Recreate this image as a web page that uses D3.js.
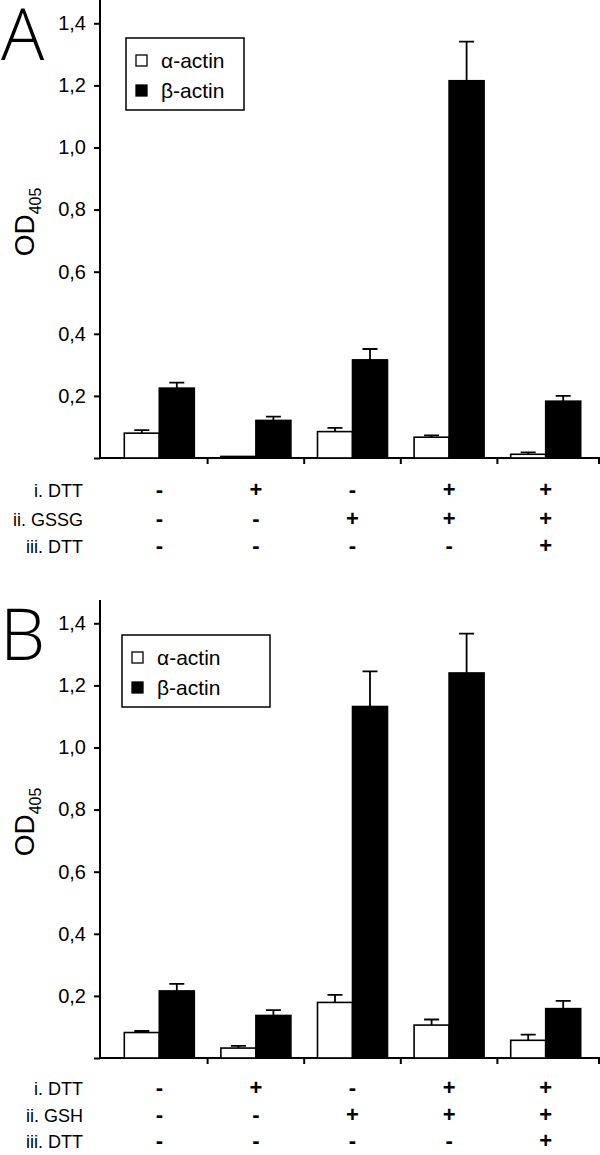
<!DOCTYPE html>
<html>
<head>
<meta charset="utf-8">
<script src="https://cdn.jsdelivr.net/npm/d3@7"></script>
<style>
  body { margin: 0; background: #fff; }
  svg { display: block; }
  text { font-family: "Liberation Sans", Arial, sans-serif; fill: #000; }
</style>
</head>
<body>
<svg id="chart" width="600" height="1155"></svg>
<script>
// ---- data ----
const categories = ["c1", "c2", "c3", "c4", "c5"];
const seriesNames = ["α-actin", "β-actin"];
const yTicks = [0, 0.2, 0.4, 0.6, 0.8, 1.0, 1.2, 1.4];

const alphaA    = [0.080, 0.005, 0.085, 0.067, 0.012];
const alphaAErr = [0.010, 0.000, 0.012, 0.006, 0.006];
const betaA     = [0.225, 0.121, 0.316, 1.215, 0.183];
const betaAErr  = [0.018, 0.012, 0.035, 0.126, 0.017];

const alphaB    = [0.082, 0.032, 0.179, 0.106, 0.057];
const alphaBErr = [0.005, 0.007, 0.024, 0.018, 0.018];
const betaB     = [0.216, 0.137, 1.132, 1.240, 0.159];
const betaBErr  = [0.023, 0.017, 0.113, 0.127, 0.025];

const rowLabelsA = ["i. DTT", "ii. GSSG", "iii. DTT"];
const rowLabelsB = ["i. DTT", "ii. GSH", "iii. DTT"];
const signs = [
  ["-", "+", "-", "+", "+"],
  ["-", "-", "+", "+", "+"],
  ["-", "-", "-", "-", "+"]
];

// ---- drawing ----
const svg = d3.select("#chart");

function panel(opts) {
  const { top, letter, alpha, alphaErr, beta, betaErr, rowLabels, legendW, letterX, letterY, rowY } = opts;
  const g = svg.append("g").attr("transform", `translate(0,${top})`);
  const axisX = 100, baseY = 458, plotRight = 600;

  const y = d3.scaleLinear().domain([0, 1.475]).range([baseY, 0]);
  const x0 = d3.scaleBand().domain(categories).range([111, 594]).paddingInner(0);
  const x1 = d3.scaleBand().domain(seriesNames).range([0, x0.bandwidth()]).paddingInner(0).paddingOuter(0.38);

  // panel letter
  g.append("text").attr("x", letterX).attr("y", letterY)
    .style("font-family", "'Open Sans', 'DejaVu Sans', sans-serif")
    .style("font-weight", 300).style("font-size", "72px").text(letter);

  // y axis
  const yAxis = d3.axisLeft(y).tickValues(yTicks).tickSize(6).tickPadding(8)
    .tickFormat(d => d === 0 ? "" : d3.format(".1f")(d).replace(".", ","));
  const ya = g.append("g").attr("transform", `translate(${axisX},0)`).call(yAxis);
  ya.select(".domain").remove();
  ya.selectAll(".tick line").attr("stroke", "#000").attr("stroke-width", 2);
  ya.selectAll(".tick text").style("font-size", "20px").style("font-family", "'Liberation Sans', Arial, sans-serif");
  g.append("line").attr("x1", axisX).attr("x2", axisX).attr("y1", y(1.475)).attr("y2", baseY)
    .attr("stroke", "#000").attr("stroke-width", 2);

  // x axis
  g.append("line").attr("x1", axisX - 1).attr("x2", plotRight).attr("y1", baseY).attr("y2", baseY)
    .attr("stroke", "#000").attr("stroke-width", 2);
  const tickXs = categories.slice(1).map(c => x0(c)).concat([599]);
  g.selectAll(".xt").data(tickXs).enter().append("line")
    .attr("x1", d => d).attr("x2", d => d).attr("y1", baseY).attr("y2", baseY + 6)
    .attr("stroke", "#000").attr("stroke-width", 2);

  // y label
  const yl = g.append("text").attr("transform", `translate(34,222) rotate(-90)`)
    .attr("text-anchor", "middle").style("font-size", "28px");
  yl.append("tspan").text("OD");
  yl.append("tspan").attr("dy", 7).style("font-size", "16px").text("405");

  // bars
  const data = categories.map((c, i) => ({ c, vals: [
    { s: seriesNames[0], v: alpha[i], e: alphaErr[i] },
    { s: seriesNames[1], v: beta[i], e: betaErr[i] }
  ]}));
  const grp = g.selectAll(".grp").data(data).enter().append("g")
    .attr("transform", d => `translate(${x0(d.c)},0)`);
  grp.selectAll(".err").data(d => d.vals.filter(v => v.e > 0)).enter().append("path")
    .attr("d", d => {
      const cx = x1(d.s) + x1.bandwidth() / 2;
      return `M${cx},${y(d.v)}V${y(d.v + d.e)}M${cx - 7.5},${y(d.v + d.e)}H${cx + 7.5}`;
    })
    .attr("stroke", "#000").attr("stroke-width", 1.8).attr("fill", "none");
  grp.selectAll("rect").data(d => d.vals).enter().append("rect")
    .attr("x", d => x1(d.s)).attr("width", x1.bandwidth())
    .attr("y", d => y(d.v)).attr("height", d => baseY - y(d.v))
    .attr("fill", (d, i) => i === 0 ? "#fff" : "#000")
    .attr("stroke", "#000").attr("stroke-width", 1.6);

  // legend
  const lg = g.append("g").attr("transform", `translate(${opts.legendX},${opts.legendY})`);
  lg.append("rect").attr("x", 0).attr("y", 0).attr("width", legendW).attr("height", 72)
    .attr("fill", "#fff").attr("stroke", "#000").attr("stroke-width", 1.5);
  seriesNames.forEach((s, i) => {
    lg.append("rect").attr("x", 10).attr("y", 17 + i * 30).attr("width", 11).attr("height", 11)
      .attr("fill", i === 0 ? "#fff" : "#000").attr("stroke", "#000").attr("stroke-width", 1.3);
    lg.append("text").attr("x", 35).attr("y", 30 + i * 30).style("font-size", "21px").text(s);
  });

  // condition table
  rowLabels.forEach((lab, r) => {
    g.append("text").attr("x", 83).attr("y", rowY[r]).attr("text-anchor", "end")
      .style("font-size", "18px").text(lab);
    g.selectAll(".sg" + r).data(categories).enter().append("text")
      .attr("x", d => x0(d) + x0.bandwidth() / 2).attr("y", rowY[r])
      .attr("text-anchor", "middle").style("font-size", "22px").style("font-weight", "bold")
      .text((d, i) => signs[r][i]);
  });
}

panel({ top: 0, letter: "A", alpha: alphaA, alphaErr: alphaAErr, beta: betaA, betaErr: betaAErr,
  rowLabels: rowLabelsA, legendX: 126, legendY: 38, legendW: 118, letterX: 1, letterY: 60,
  rowY: [497, 526, 553] });
panel({ top: 600, letter: "B", alpha: alphaB, alphaErr: alphaBErr, beta: betaB, betaErr: betaBErr,
  rowLabels: rowLabelsB, legendX: 122, legendY: 35, legendW: 148, letterX: 0, letterY: 60,
  rowY: [495, 522, 548] });
</script>
</body>
</html>
